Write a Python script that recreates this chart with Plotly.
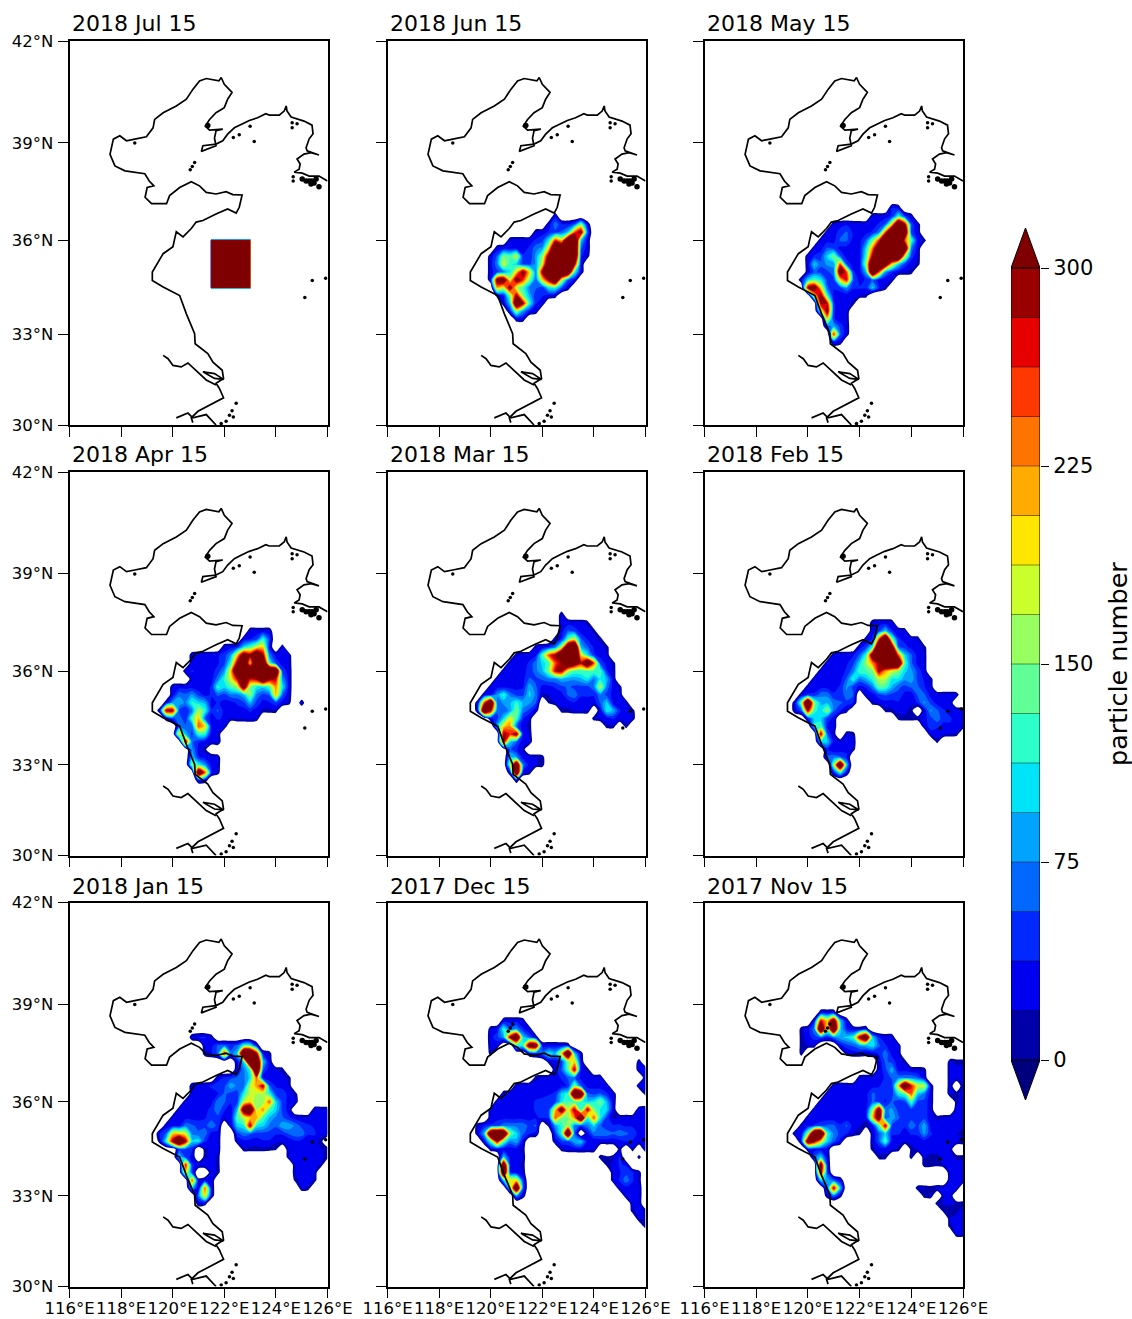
import math
import plotly.graph_objects as go

W, H = 1132, 1319
LONS = [119 + 0.25 * i for i in range(29)]
LATS = [31.5 + 0.25 * i for i in range(31)]
TITLES = ["2018 Jul 15", "2018 Jun 15", "2018 May 15", "2018 Apr 15", "2018 Mar 15",
          "2018 Feb 15", "2018 Jan 15", "2017 Dec 15", "2017 Nov 15"]
LAT_TICKS = [30, 33, 36, 39, 42]
LON_TICKS = [116, 118, 120, 122, 124, 126]
LEVEL_COLORS = ["#0000A8", "#0000F1", "#0028FF", "#0068FF", "#00A4FF", "#00E4F8", "#2CFFCA", "#60FF97",
                "#97FF60", "#CAFF2C", "#FFE600", "#FFAB00", "#FF7300", "#FF3800", "#E60000", "#9B0000"]
UNDER, OVER = "#00007F", "#7F0000"

# each row: (latitude, first longitude, particle numbers at 0.25 degree spacing)
JUL = [(36, 121.5, [320,320,320,320,320,320,320]), (35.75, 121.5, [320,320,320,320,320,320,320]),
       (35.5, 121.5, [320,320,320,320,320,320,320]), (35.25, 121.5, [320,320,320,320,320,320,320]),
       (35, 121.5, [320,320,320,320,320,320,320]), (34.75, 121.5, [320,320,320,320,320,320,320]),
       (34.5, 121.5, [320,320,320,320,320,320,320])]
JUN = [(36.75, 122.5, [30]),
       (36.5, 122.25, [25,70,40,35,60,150,25]),
       (36.25, 121.75, [25,30,40,50,60,100,250,320,60]),
       (36, 120.75, [25,30,30,30,40,50,110,260,200,400,450,100,25]),
       (35.75, 120.25, [25,35,30,30,30,40,70,80,200,420,420,450,450,60,25]),
       (35.5, 120, [25,60,150,130,180,40,40,80,150,320,450,450,450,450,40,15]),
       (35.25, 120, [30,70,180,120,100,50,50,80,180,400,450,450,450,300,30]),
       (35, 120, [30,50,70,110,200,320,200,70,300,450,450,450,400,120,25]),
       (34.75, 120, [30,320,350,180,330,260,150,60,200,300,420,180,60,30]),
       (34.5, 120.25, [220,180,320,170,130,70,60,40,110,120,60,20]),
       (34.25, 120.25, [15,40,150,300,150,90,40,40,30,20]),
       (34, 120.5, [25,100,400,300,120,40,25]),
       (33.75, 120.75, [40,160,80,40,25]),
       (33.5, 121, [25,25])]
MAY = [(37, 123.25, [40,30]),
       (36.75, 122.5, [25,25,30,40,120,50,20]),
       (36.5, 121, [25,30,35,30,30,30,30,40,60,200,420,300,50,20]),
       (36.25, 120.75, [25,30,45,60,35,30,30,40,70,250,450,450,400,50,25]),
       (36, 120.5, [25,30,30,60,60,30,30,60,140,260,450,450,450,250,130,30,15]),
       (35.75, 120.25, [25,30,60,50,30,30,30,30,100,230,400,450,450,450,400,70,25]),
       (35.5, 120, [25,40,50,100,150,60,30,30,30,120,300,450,450,450,450,180,50,20]),
       (35.25, 120, [25,100,60,80,80,250,50,30,30,150,420,450,350,200,100,50,25,15]),
       (35, 120, [25,60,50,50,70,350,250,40,30,90,420,250,80,40,25,20,15]),
       (34.75, 119.75, [30,100,130,110,50,50,200,280,60,30,40,60,30,25,20]),
       (34.5, 120, [300,350,200,60,40,50,80,40,40,40,100,40,15]),
       (34.25, 120.25, [200,320,120,30,25,25,25,20,15]),
       (34, 120.5, [300,280,40,25,25,15]),
       (33.75, 120.5, [150,320,40,25,25]),
       (33.5, 120.75, [200,40,25,20]),
       (33.25, 120.75, [50,90,50,25]),
       (33, 121, [270,60,20]),
       (32.75, 121, [40,25])]
APR = [(37.25, 123, [25,25,25,25]),
       (37, 122.75, [25,35,50,120,50]),
       (36.75, 122, [25,30,40,100,130,180,200,30]), (36.75, 124.25, [20]),
       (36.5, 120.75, [25,30,30,30,35,45,80,200,350,300,400,300,70,30,30,20]),
       (36.25, 120.75, [25,30,30,30,35,50,120,300,420,200,420,420,130,50,30,25]),
       (36, 120.5, [25,40,30,30,30,45,80,200,420,400,420,450,450,450,420,50,30]),
       (35.75, 120.75, [25,25,25,30,70,120,180,280,320,280,300,420,300,280,80,30]),
       (35.5, 120, [25,30,30,30,25,30,40,120,100,130,160,350,150,110,100,130,230,110,30]),
       (35.25, 120, [30,70,60,80,50,30,40,60,50,70,70,90,160,70,50,60,220,60,25]),
       (35, 119.75, [25,80,90,70,120,100,90,30,40,30,30,40,50,90,50,30,35,50,30,15]), (35, 125, [25]),
       (34.75, 119.5, [25,300,300,50,40,70,170,120,40,60,30,30,30,30,40,30,15,15,15]),
       (34.5, 119.75, [20,50,70,40,130,210,60,30,40,35,20,25,25,30,20]),
       (34.25, 120.25, [60,60,60,250,200,30,25,25]),
       (34, 120.25, [200,90,50,120,120,25,25]),
       (33.75, 120.5, [300,60,40,30,25,30]),
       (33.5, 120.75, [80,30,10]),
       (33.25, 120.75, [100,40,30,30,20]),
       (33, 120.75, [150,120,80,30,20]),
       (32.75, 121, [400,250,40,15]),
       (32.5, 121, [30,25])]
MAR = [(37.75, 122.75, [25]),
       (37.5, 122.75, [30,30,25,25,15]),
       (37.25, 122.75, [30,60,50,30,30,15]),
       (37, 122.5, [20,40,130,180,60,35,25,15]),
       (36.75, 121.75, [20,25,40,70,170,400,450,90,60,35,25,15]),
       (36.5, 121, [20,25,30,35,130,250,300,450,450,450,200,110,40,30,20]),
       (36.25, 120.75, [25,30,30,40,70,100,130,250,300,420,350,280,400,250,50,30,15]),
       (36, 120.5, [25,30,30,35,40,70,90,150,280,300,170,130,130,130,130,130,40,20]),
       (35.75, 120.25, [25,30,30,30,30,60,50,60,70,70,90,80,80,90,110,70,110,90,25]),
       (35.5, 120, [25,30,30,30,30,35,90,60,30,30,40,50,60,50,50,50,70,170,70,30,15]),
       (35.25, 119.75, [25,30,80,120,70,50,50,100,70,15,20,25,30,60,70,40,40,40,70,50,30,25]),
       (35, 119.5, [25,250,420,60,80,90,120,90,80,60]), (35, 122.25, [5,20,25,25,35,30,30,25,60,100,30,25,20]),
       (34.75, 119.5, [25,420,300,60,60,80,150,70,50,20]), (34.75, 122.75, [15,15,25,25,25]), (34.75, 124.25, [30,110,90,40,25,15]),
       (34.5, 120, [30,50,100,190,130,40,20]), (34.5, 124, [15,25,30,40,30,25,20]),
       (34.25, 120.25, [90,200,230,60,25,15]), (34.25, 124.5, [15,15]), (34.25, 125.25, [15]),
       (34, 120.5, [300,260,320,30,20]),
       (33.75, 120.5, [300,100,60,25,25]),
       (33.5, 120.75, [60,40,15]),
       (33.25, 120.75, [100,80,30,25,20,15]),
       (33, 120.75, [150,400,70,30,20,15]),
       (32.75, 120.75, [25,400,30,15]),
       (32.5, 121, [25])]
FEB = [(37.5, 122.5, [25,30,30,25]),
       (37.25, 122.5, [30,50,100,40,30,20]),
       (37, 122.25, [20,40,250,450,150,40,30,25,20]),
       (36.75, 122, [30,50,120,450,450,350,60,45,30,25,15]),
       (36.5, 121, [25,30,30,35,60,120,350,450,450,420,250,100,60,30,20]),
       (36.25, 120.75, [25,30,30,35,50,100,160,230,300,450,450,420,130,60,30,20]),
       (36, 120.5, [25,30,30,30,40,70,130,130,150,300,220,180,150,100,80,50,25]),
       (35.75, 120.25, [25,30,30,30,30,60,120,70,90,120,170,170,110,110,80,90,50,35,15]),
       (35.5, 120, [25,30,30,30,30,40,80,50,30,40,70,140,130,90,60,50,60,60,40,20]),
       (35.25, 119.75, [25,40,40,70,70,40,40,70,60]), (35.25, 122.25, [25,30,50,60,50,50,30,25,60,60,30,25,25,25,20]),
       (35, 119.5, [25,150,450,150,90,90,70,60,50,40]), (35, 122.5, [15,25,30,30,35,30,25,40,80,50,30,25,25]),
       (34.75, 119.5, [25,60,300,120,100,160,60,40,15]), (34.75, 123, [10,15,25,25,10]), (34.75, 124.5, [25,80,60,40,30,30,25]),
       (34.5, 120, [40,100,100,50,30]), (34.5, 123.5, [10,15,15,15,30,50,70,40,40,30,25]),
       (34.25, 120.25, [120,130,35,25]), (34.25, 124.5, [20,50,40,35,35,30,20]),
       (34, 120.5, [300,60,15]), (34, 121.5, [20,15]), (34, 124.75, [25,30,25,20,15]),
       (33.75, 120.5, [100,100,30,20,30,25]), (33.75, 125, [10]),
       (33.5, 120.75, [40,20,25,35,15]),
       (33.25, 120.75, [60,70,60,40]),
       (33, 121, [150,420,100]),
       (32.75, 121, [40,120,30])]
JAN = [(38, 120.75, [25,40,40,20]),
       (37.75, 121.25, [25,30,60,60,50,60,120,120,30]),
       (37.5, 121.25, [20,35,60,280,60,100,450,450,300,30,15]),
       (37.25, 122.5, [30,100,450,450,100,25]),
       (37, 122.5, [30,70,120,450,60,25,20,15]),
       (36.75, 121.75, [25,40,50,60,70,100,250,20,25,25,25,15]),
       (36.5, 120.75, [25,30,30,40,50,50,90,70,60,170,220,300,60,35,30,20]),
       (36.25, 120.75, [25,25,30,30,35,60,50,45,110,180,170,170,120,50,50,30,15]),
       (36, 120.5, [25,30,30,30,30,70,60,40,50,170,200,150,150,250,100,50,30,25]),
       (35.75, 120.25, [25,30,30,30,30,45,70,40,25,90,350,400,170,230,130,100,50,30]), (35.75, 125.5, [25,25,25]),
       (35.5, 120, [25,30,30,30,30,35,50,50,25,25,130,170,200,220,130,90,70,60,40,30,25,25,25,30,25]),
       (35.25, 119.75, [25,30,30,70,60,50,50,70,50]), (35.25, 122.25, [20,100,110,300,110,100,70,60,90,90,70,50,40,35,30,25]),
       (35, 119.5, [40,60,200,200,180,70,60,70,30,30]), (35, 122.5, [50,70,60,50,50,50,40,40,60,70,70,40,40,25,25]),
       (34.75, 119.5, [15,120,300,450,300,100,110,40,30,25]), (34.75, 122.5, [20,30,30,25,35,35,25,25,20,35,30,25,30,10]),
       (34.5, 120.25, [50,50,40]), (34.5, 121.25, [15,25,25]), (34.5, 122.75, [15,15,15,15,10,5]), (34.5, 124.5, [25,30,30,25,30,20,15]),
       (34.25, 120.25, [100,50,30]), (34.25, 121.25, [15,30,15]), (34.25, 124.5, [20,35,35,30,30,25,10]),
       (34, 120.5, [280,40,30,30,30,15]), (34, 124.75, [25,35,30,30,15]),
       (33.75, 120.5, [200,50]), (33.75, 121.5, [25,15]), (33.75, 124.75, [25,30,35,20]),
       (33.5, 120.75, [250,15,30,30]), (33.5, 124.75, [10,30,30,15]),
       (33.25, 120.75, [100,15,240,30]), (33.25, 125, [25,15]),
       (33, 121, [70,200,25]),
       (32.75, 121, [25,15])]
DEC = [(38.5, 120.5, [25,30,30,20]),
       (38.25, 120, [20,30,120,60,80,40,20]),
       (38, 120, [30,50,80,300,420,100,60,20]),
       (37.75, 120, [25,25]), (37.75, 121, [120,120,350,350,30,30,30,25,20]),
       (37.5, 120, [15]), (37.5, 121.5, [25,40,70,110,90,200,420,100,15]),
       (37.25, 122.25, [15,25,50,150,200,25]), (37.25, 125.75, [20]),
       (37, 122.5, [25,60,130,300,25,15]), (37, 125.75, [25,30]),
       (36.75, 121.75, [15,20,25,30,40,60,60,30,25,25,25]), (36.75, 126, [25]),
       (36.5, 121, [25,30,30,25,25,25,30,30,40,150,60,30,30,25,25]), (36.5, 125.75, [25,25]),
       (36.25, 120.5, [25,30,30,30,30,30,30,35,40,100,120,420,400,60,50,60,40,25]), (36.25, 126, [15]),
       (36, 120.25, [25,30,30,30,30,30,40,45,50,50,110,130,130,120,100,110,150,90,25]),
       (35.75, 120, [20,25,30,30,30,30,30,40,40,50,200,350,170,300,110,300,150,110,100,25]), (35.75, 125.75, [30,35]),
       (35.5, 120, [25,30,30,30,30,30,30,35,40,40,250,150,150,230,420,120,250,110,50,15,25,25,25,25,30]),
       (35.25, 119.5, [20,40,40,50,70,70,70,70,50,60]), (35.25, 122.25, [10,80,120,170,70,50,70,100,60,40,40,40,35,35,30,30]),
       (35, 119.5, [25,90,420,450,420,150,100,60,40,30]), (35, 122.5, [50,120,420,60]), (35, 123.75, [30,70,70,70,60,70,60,50,30,25]),
       (34.75, 119.75, [30,130,300,140,70,90,30]), (34.75, 122.5, [25,50,50,90,100,30,20,25,25,25,30,40,35,25,30]),
       (34.5, 120, [15,25,25,25,30,15]), (34.5, 122.75, [15,25,25,30,25,25]), (34.5, 125, [15]), (34.5, 125.5, [15]), (34.5, 126, [25]),
       (34.25, 120.5, [100,30,25,20]), (34.25, 124.25, [15,5,15,40]), (34.25, 125.75, [15]),
       (34, 120.5, [400,30,25,15]), (34, 124.5, [10,25,40,35]),
       (33.75, 120.5, [430,40,30,20]), (33.75, 124.75, [25,35,50,40,15]),
       (33.5, 120.5, [100,200,200,50]), (33.5, 124.75, [20,40,70,40,15]),
       (33.25, 120.75, [120,420,60]), (33.25, 125, [25,30,30,25]),
       (33, 121, [80,20]), (33, 125.25, [25,30,25]),
       (32.75, 125.5, [25,25]),
       (32.5, 125.5, [15,25,15]),
       (32.25, 125.75, [25,15]),
       (32, 126, [20])]
NOV = [(38.75, 120.5, [25,25,25]),
       (38.5, 120.25, [30,280,200,350,100,25]),
       (38.25, 119.75, [15,30,70,420,150,420,100,40,25,15,25]),
       (38, 119.75, [15,25,50,60,40,70,90,100,120,300,400,100,40,25,25]),
       (37.75, 119.75, [15,20,15]), (37.75, 121.25, [30,50,60,80,90,110,60,40,25,20]),
       (37.5, 119.75, [15]), (37.5, 121.5, [15,25,25,20,25,40,70,30,25]),
       (37.25, 122.75, [25,60,50,25,15]), (37.25, 125.5, [20,15,15]),
       (37, 122.75, [25,50,90,30,30,25,20,15]), (37, 125.5, [25,25,25]),
       (36.75, 122, [20,25,30,30,40,60,70,70,70,60,25]), (36.75, 125.5, [25,25,25]),
       (36.5, 121, [25,30,25,25,25,25,30,35,50,40,200,420,270,180,180,25]), (36.5, 125.5, [25]), (36.5, 126, [25]),
       (36.25, 120.75, [25,25,25,25,25,25,30,60,50,40,45,110,130,250,100,70,25]), (36.25, 125.5, [25,15,25]),
       (36, 120.5, [25,25,25,25,25,25,25,30,60,50,35,60,40,50,130,50,50,25]), (36, 125.75, [15,25]),
       (35.75, 120.25, [25,25,25,25,25,25,25,25,30,150,350,70,80,50,40,50,50,50,25]), (35.75, 125.75, [25,25]),
       (35.5, 120, [25,25,25,25,25,25,25,25,25,25,200,350,50,90,60,40,50,50,50,25,15,20,25,25,25]),
       (35.25, 119.75, [20,30,40,50,60,60,40,60,30,20,10,30,130,300,50,40,40,70,50,90,30,30,25,25,25,25]),
       (35, 119.5, [25,30,150,420,430,120,70,50,40,20,10]), (35, 122.5, [20,60,100,40,40,30,40,40,80,40,30,25,25,20,10]),
       (34.75, 119.75, [40,350,300,200,100,60,30]), (34.75, 122.5, [20,60,130,30,25,20,25,30,30,30,30,25,25,25,25]),
       (34.5, 120, [20,30,30,25]), (34.5, 122.5, [15,25,25,25,15]), (34.5, 124, [10,25,25,25,25,25,20]),
       (34.25, 120.25, [60,100,25]), (34.25, 122.75, [15,15]), (34.25, 124, [15]), (34.25, 124.5, [20,15,15,25,25,15,15]),
       (34, 120.5, [350,30]), (34, 124.5, [15,15,10,20,25,25,25]),
       (33.75, 120.5, [300,50]), (33.75, 125.5, [25,25,25]),
       (33.5, 120.5, [100,90,60,30]), (33.5, 125.5, [25,25,25]),
       (33.25, 120.75, [60,300,100]), (33.25, 124.25, [20,20,15,25,25,25,25]),
       (33, 120.75, [20,70,15]), (33, 124.5, [15,20]), (33, 125.25, [20,25]),
       (32.75, 125, [15,20,25,15,15]),
       (32.5, 125.25, [10,5,15,25]),
       (32.25, 125.5, [20,25,25]),
       (32, 125.5, [15,25,25]),
       (31.75, 125.75, [25,25])]
PANELS = [JUL, JUN, MAY, APR, MAR, FEB, JAN, DEC, NOV]
EMPTY = [-3000, -40, -40, -40, -40, -40, -40, -40, -40]

COAST_LON = [126,125.94,125.67,125.29,125.02,124.71,124.9,124.94,124.82,125.09,125.36,125.67,125.21,125.17,125.29,125.44,125.4,125.09,124.82,124.59,124.43,124.4,124.32,124.13,123.74,123.61,123.29,122.97,122.65,122.39,122.13,121.94,121.68,121.17,121.11,121.68,121.62,121.68,121.94,121.43,121.26,121.43,121.68,122.0,122.13,122.3,122.0,121.88,121.79,121.3,121.04,120.78,120.53,120.14,119.63,119.3,119.24,118.98,118.53,118.21,117.95,117.7,117.57,117.76,118.15,118.6,118.92,119.09,119.27,119.01,118.93,119.18,119.76,119.88,120.27,120.72,121.04,121.3,121.68,122.07,122.33,122.69,122.58,122.46,122.13,121.68,121.17,120.91,120.72,120.4,120.14,120.08,120.01,119.63,119.37,119.21,119.21,119.63,120.27,120.53,120.85,120.87,121.36,121.56,121.92,121.97,121.68,121.81,121.97,121.43,120.98,120.72,120.78,None,
             119.63,119.82,120.01,120.33,120.59,120.91,121.3,121.68,None,
             121.17,121.62,121.97,121.62,121.17,None,
             120.14,120.59,120.78,121.3,121.68]
COAST_LAT = [37.84,37.87,37.99,37.99,38.08,38.11,38.2,38.36,38.51,38.66,38.7,38.63,38.76,38.85,39.12,39.27,39.53,39.65,39.71,39.77,39.95,40.1,39.95,39.83,39.83,39.87,39.75,39.67,39.55,39.45,39.26,39.06,38.96,38.91,38.74,38.91,39.14,39.36,39.41,39.38,39.5,39.7,39.9,40.05,40.3,40.5,40.74,40.94,40.84,40.91,40.84,40.59,40.3,40.1,39.9,39.7,39.45,39.18,39.11,39.06,39.21,39.11,38.65,38.3,38.15,38.1,38.06,37.84,37.69,37.64,37.34,37.14,37.14,37.39,37.64,37.82,37.69,37.49,37.44,37.51,37.42,37.41,37.03,36.85,36.98,36.82,36.62,36.57,36.37,36.11,36.27,36.06,35.8,35.58,35.21,35.0,34.73,34.52,34.25,33.66,33.02,32.69,32.37,32.09,31.82,31.55,31.39,31.22,30.91,30.67,30.46,30.24,30.08,None,
             32.31,32.2,31.98,31.93,32.06,31.82,31.5,31.33,None,
             31.77,31.71,31.52,31.55,31.77,None,
             30.24,30.4,30.24,30.35,30.0]
ISLE_LON = [122.46,122.3,122.2,122.35,122.07,121.88,123.16,122.35,122.58,125.41,125.93,125.12,120.85,120.76,120.68,118.53,124.67,124.67,124.63,124.63,124.82,123.0]
ISLE_LAT = [30.73,30.48,30.33,30.27,30.13,30.05,39.04,39.16,39.24,34.73,34.8,34.19,38.4,38.28,38.18,38.99,37.97,37.84,39.6,39.45,39.57,39.5]
BIG_ISLE_LON = [121.36,125.02,125.17,125.29,125.36,125.4,125.48,125.56,125.67]
BIG_ISLE_LAT = [39.52,37.9,37.84,37.84,37.75,37.84,37.78,37.9,37.66]

CB_TICKS = [0, 75, 150, 225, 300]
CB_STEP = 18.75


def merc(lat):
    return math.asinh(math.tan(math.radians(lat)))


def to_grid(rows, empty):
    z = [[empty] * len(LONS) for _ in LATS]
    for lat, start, values in rows:
        i = round((lat - LATS[0]) / 0.25)
        j0 = round((start - LONS[0]) / 0.25)
        for j, v in enumerate(values):
            z[i][j0 + j] = v
    return z


PX_COLS = [(69.5, 327.5), (387.5, 645.5), (704.5, 963)]
PX_ROWS = [(41, 425), (472, 855.5), (902.5, 1286.5)]
TITLE_X = [70, 388, 705]
TITLE_Y = [24, 455, 886]

n = len(LEVEL_COLORS) + 1
scale = [[0, "rgba(255,255,255,0)"]] + [[(i + 1) / n, c] for i, c in enumerate(LEVEL_COLORS)] + [[1, OVER]]

fig = go.Figure()
layout = {}
ys = [merc(v) for v in LATS]
coast_y = [None if v is None else merc(v) for v in COAST_LAT]
isle_y = [merc(v) for v in ISLE_LAT]
big_isle_y = [merc(v) for v in BIG_ISLE_LAT]
notes = []
for k, rows in enumerate(PANELS):
    r, c = divmod(k, 3)
    sx = str(k + 1)
    fig.add_trace(go.Contour(x=LONS, y=ys, z=to_grid(rows, EMPTY[k]), xaxis="x" + sx, yaxis="y" + sx, colorscale=scale,
                             autocontour=False, contours=dict(start=0, end=300, size=CB_STEP, coloring="fill"),
                             line=dict(width=0, smoothing=0 if k == 0 else 0.7), showscale=False, hoverinfo="skip"))
    fig.add_trace(go.Scatter(x=COAST_LON, y=coast_y, xaxis="x" + sx, yaxis="y" + sx, mode="lines",
                             line=dict(color="black", width=1.7), showlegend=False, connectgaps=False))
    fig.add_trace(go.Scatter(x=ISLE_LON, y=isle_y, xaxis="x" + sx, yaxis="y" + sx, mode="markers",
                             marker=dict(color="black", size=3.5), showlegend=False))
    fig.add_trace(go.Scatter(x=BIG_ISLE_LON, y=big_isle_y, xaxis="x" + sx, yaxis="y" + sx, mode="markers",
                             marker=dict(color="black", size=5.5), showlegend=False))
    x0, x1 = PX_COLS[c]
    y0, y1 = PX_ROWS[r]
    common = dict(showgrid=False, zeroline=False, showline=True, mirror=True, linecolor="black", linewidth=1.5,
                  ticks="outside", ticklen=10, tickwidth=1.3, tickcolor="black", automargin=False,
                  tickfont=dict(family="DejaVu Sans", size=16.5, color="black"))
    layout["xaxis" + sx] = dict(common, domain=[x0 / W, x1 / W], range=[116, 126], anchor="y" + sx,
                                tickvals=LON_TICKS, ticktext=[f"{v}°E" for v in LON_TICKS], showticklabels=r == 2,
                                tickangle=0, ticklabelstandoff=-4)
    layout["yaxis" + sx] = dict(common, domain=[1 - y1 / H, 1 - y0 / H], range=[merc(30), merc(42)], anchor="x" + sx,
                                tickvals=[merc(v) for v in LAT_TICKS], ticktext=[f"{v}°N" for v in LAT_TICKS],
                                showticklabels=c == 0, ticklabelstandoff=1)
    notes.append(dict(text=TITLES[k], x=TITLE_X[c] / W, y=1 - TITLE_Y[r] / H, xref="paper", yref="paper",
                      xanchor="left", yanchor="middle", showarrow=False,
                      font=dict(family="DejaVu Sans", size=22, color="black")))

# colour bar
bar_mid = [CB_STEP * (i + 0.5) for i in range(len(LEVEL_COLORS))]
bar_tip = 15.15
fig.add_trace(go.Heatmap(x=[0.5], y=bar_mid, z=[[i] for i in range(len(LEVEL_COLORS))], zmin=0, zmax=len(LEVEL_COLORS) - 1,
                         colorscale=[[i / (len(LEVEL_COLORS) - 1), col] for i, col in enumerate(LEVEL_COLORS)],
                         showscale=False, xaxis="x10", yaxis="y10", hoverinfo="skip"))
edge_x, edge_y = [], []
for i in range(len(LEVEL_COLORS) + 1):
    edge_x += [0, 1, None]
    edge_y += [CB_STEP * i, CB_STEP * i, None]
fig.add_trace(go.Scatter(x=edge_x, y=edge_y, mode="lines", line=dict(color="rgba(0,0,0,0.55)", width=0.8),
                         xaxis="x10", yaxis="y10", showlegend=False))
fig.add_trace(go.Scatter(x=[0, 0.5, 1, 0], y=[300, 300 + bar_tip, 300, 300], mode="lines", fill="toself", fillcolor=OVER,
                         line=dict(color="black", width=1), xaxis="x10", yaxis="y10", showlegend=False))
fig.add_trace(go.Scatter(x=[0, 0.5, 1, 0], y=[0, -bar_tip, 0, 0], mode="lines", fill="toself", fillcolor=UNDER,
                         line=dict(color="black", width=1), xaxis="x10", yaxis="y10", showlegend=False))
fig.add_trace(go.Scatter(x=[0, 0, None, 1, 1], y=[0, 300, None, 0, 300], mode="lines",
                         line=dict(color="black", width=1), xaxis="x10", yaxis="y10", showlegend=False))
layout["xaxis10"] = dict(domain=[1011 / W, 1040 / W], range=[0, 1], anchor="y10", visible=False, automargin=False)
layout["yaxis10"] = dict(domain=[1 - 1100 / H, 1 - 228 / H], range=[-bar_tip, 300 + bar_tip], anchor="x10", side="right",
                         showgrid=False, zeroline=False, showline=False, tickvals=CB_TICKS, ticks="outside", ticklen=8,
                         tickwidth=1.3, tickcolor="black", automargin=False,
                         tickfont=dict(family="DejaVu Sans", size=21, color="black"))
notes.append(dict(text="particle number", x=1118 / W, y=1 - 664 / H, xref="paper", yref="paper", textangle=-90,
                  xanchor="center", yanchor="middle", showarrow=False,
                  font=dict(family="DejaVu Sans", size=25.5, color="black")))

fig.update_layout(width=W, height=H, margin=dict(l=0, r=0, t=0, b=0), paper_bgcolor="white", plot_bgcolor="white",
                  showlegend=False, annotations=notes, **layout)
fig.write_html("out.html", config=dict(displayModeBar=False),
               post_script="document.body.style.margin='0';document.documentElement.style.overflow='hidden';")
